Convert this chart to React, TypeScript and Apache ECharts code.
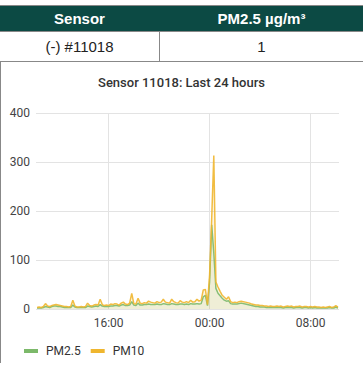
import React, { useEffect, useRef } from "react";
import * as echarts from "echarts";

const TITLE = "Sensor 11018: Last 24 hours";
const TABLE_HEAD = ["Sensor", "PM2.5 µg/m³"];
const TABLE_ROW = ["(-) #11018", "1"];
const SERIES_NAMES = ["PM2.5", "PM10"];
const X_TICKS = [16, 24, 32];
const Y_TICKS = [0, 100, 200, 300, 400];
const START_HOUR = 10 + 20 / 60;
const STEP_HOURS = 10 / 60;

const PM10 = [
  3, 4, 3, 5, 11, 6, 5, 7, 8, 9, 8, 7,
  6, 5, 5, 4, 5, 18, 6, 4, 4, 5, 4, 5,
  12, 7, 6, 8, 9, 8, 20, 9, 7, 8, 7, 10,
  9, 11, 10, 8, 12, 14, 10, 9, 12, 32, 11, 10,
  22, 12, 11, 13, 12, 16, 14, 13, 12, 15, 13, 14,
  20, 14, 13, 12, 20, 15, 13, 12, 17, 14, 13, 15,
  13, 18, 14, 15, 20, 16, 18, 39, 40, 9, 70, 185,
  313, 55, 45, 36, 28, 24, 20, 25, 15, 13, 14, 13,
  15, 16, 15, 14, 13, 12, 10, 9, 8, 8, 7, 7,
  6, 6, 5, 6, 5, 5, 6, 5, 6, 4, 5, 6,
  5, 6, 4, 5, 5, 6, 4, 5, 5, 4, 5, 4,
  5, 4, 4, 3, 4, 3, 4, 5, 3, 4, 7, 4,
];

const PM25 = [
  2, 2, 2, 3, 5, 4, 3, 5, 6, 6, 5, 5,
  4, 3, 3, 3, 3, 8, 4, 3, 3, 3, 3, 3,
  6, 5, 4, 5, 6, 5, 9, 6, 5, 5, 5, 6,
  6, 7, 7, 6, 8, 9, 7, 7, 8, 15, 8, 7,
  12, 8, 8, 9, 9, 10, 9, 9, 9, 10, 9, 9,
  11, 10, 9, 9, 11, 10, 9, 9, 10, 10, 9, 10,
  9, 11, 10, 10, 11, 10, 11, 25, 28, 7, 55, 172,
  115, 42, 32, 27, 22, 18, 16, 17, 11, 10, 10, 10,
  11, 12, 11, 10, 9, 8, 7, 6, 5, 5, 4, 4,
  4, 3, 3, 3, 3, 3, 3, 3, 3, 2, 3, 3,
  3, 3, 2, 3, 3, 3, 2, 3, 3, 2, 3, 2,
  3, 2, 2, 2, 2, 2, 2, 3, 2, 2, 4, 2,
];

const COLORS = ["#7cb96a", "#efb62f"];

function toPairs(vals: number[]) {
  return vals.map((v, i) => [START_HOUR + i * STEP_HOURS, v]);
}

export default function App() {
  const ref = useRef<HTMLDivElement>(null);
  useEffect(() => {
    if (!ref.current) return;
    const chart = echarts.init(ref.current, undefined, { renderer: "svg" });
    const font = "Roboto, sans-serif";
    chart.setOption({
      animation: false,
      title: {
        text: TITLE,
        left: "center",
        top: 71,
        textStyle: { fontSize: 13, fontWeight: 500, color: "#333", fontFamily: font },
      },
      legend: {
        left: 19,
        top: 340,
        icon: "rect",
        itemWidth: 14,
        itemHeight: 4,
        itemGap: 10,
        data: SERIES_NAMES,
        textStyle: { fontSize: 12, color: "#333", fontFamily: font, padding: [0, 0, 0, 3] },
      },
      grid: { left: 36, right: 24, top: 113, bottom: 57 },
      xAxis: {
        type: "value",
        min: 10.25,
        max: 34.25,
        axisLine: { show: false },
        axisTick: { show: false, customValues: X_TICKS },
        axisLabel: {
          customValues: X_TICKS,
          fontSize: 12,
          color: "#444",
          fontFamily: font,
          margin: 8,
          formatter: (v: number) => String(Math.round(v) % 24).padStart(2, "0") + ":00",
        },
        splitLine: { show: true, lineStyle: { color: "#e3e3e3" } },
      },
      yAxis: {
        type: "value",
        min: Y_TICKS[0],
        max: Y_TICKS[Y_TICKS.length - 1],
        interval: 100,
        axisLine: { show: false },
        axisTick: { show: false },
        axisLabel: { fontSize: 12, color: "#444", fontFamily: font, margin: 6 },
        splitLine: { lineStyle: { color: "#e3e3e3" } },
      },
      series: [
        {
          name: SERIES_NAMES[0],
          type: "line",
          data: toPairs(PM25),
          showSymbol: false,
          color: COLORS[0],
          lineStyle: { width: 1.5, opacity: 0.9 },
          areaStyle: { color: COLORS[0], opacity: 0.12 },
        },
        {
          name: SERIES_NAMES[1],
          type: "line",
          data: toPairs(PM10),
          showSymbol: false,
          color: COLORS[1],
          lineStyle: { width: 1.5, opacity: 0.9 },
          areaStyle: { color: COLORS[1], opacity: 0.12 },
        },
      ],
    });
    return () => chart.dispose();
  }, []);

  const cell: React.CSSProperties = {
    position: "absolute",
    display: "flex",
    alignItems: "center",
    justifyContent: "center",
    fontFamily: "'Liberation Sans', Arial, sans-serif",
    fontSize: 15,
  };

  return (
    <div style={{ position: "fixed", left: 0, top: 0, width: 363, height: 366, background: "#fff", overflow: "hidden" }}>
      <div ref={ref} style={{ position: "absolute", left: 0, top: 0, width: 363, height: 366 }} />
      <div style={{ position: "absolute", left: 0, top: 5, width: 363, height: 1, background: "#888" }} />
      <div style={{ position: "absolute", left: 0, top: 6, width: 363, height: 25, background: "#0c4a44" }} />
      <div style={{ ...cell, left: 0, top: 6, width: 159, height: 25, color: "#fff", fontWeight: 700 }}>{TABLE_HEAD[0]}</div>
      <div style={{ ...cell, left: 160, top: 6, width: 203, height: 25, color: "#fff", fontWeight: 700 }}>{TABLE_HEAD[1]}</div>
      <div style={{ position: "absolute", left: 0, top: 31, width: 363, height: 1, background: "#888" }} />
      <div style={{ ...cell, left: 0, top: 32, width: 159, height: 29, color: "#222" }}>{TABLE_ROW[0]}</div>
      <div style={{ position: "absolute", left: 159, top: 32, width: 1, height: 29, background: "#888" }} />
      <div style={{ ...cell, left: 160, top: 32, width: 203, height: 29, color: "#222" }}>{TABLE_ROW[1]}</div>
      <div style={{ position: "absolute", left: 0, top: 61, width: 363, height: 1, background: "#888" }} />
      <div style={{ position: "absolute", left: 0, top: 62, width: 1, height: 301, background: "#888" }} />
    </div>
  );
}
